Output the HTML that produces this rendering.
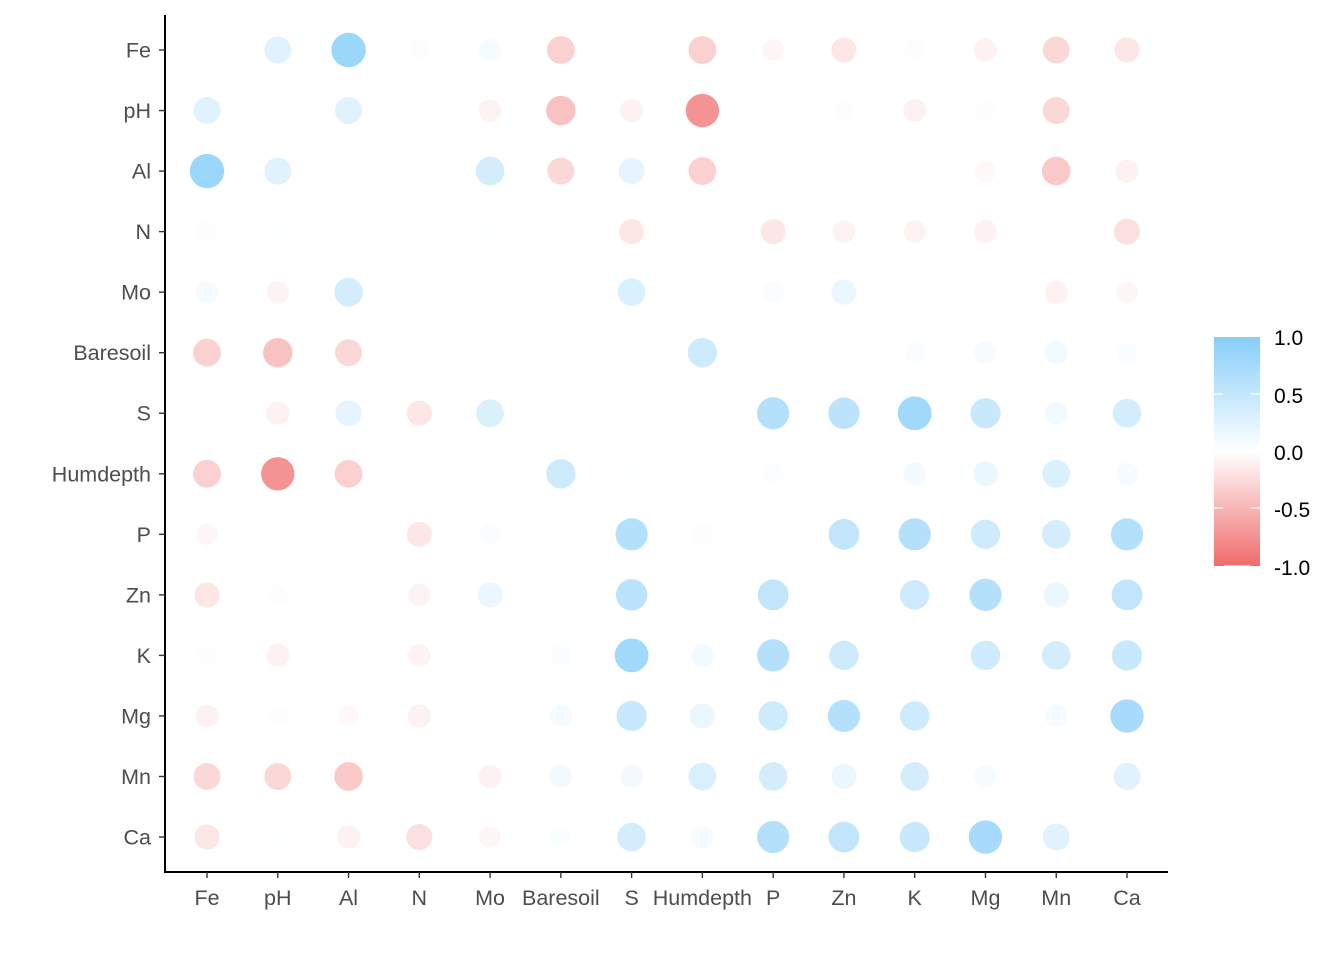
<!DOCTYPE html>
<html><head><meta charset="utf-8"><style>
html,body{margin:0;padding:0;background:#fff;}
svg text{font-family:"Liberation Sans",Arial,sans-serif;}
</style></head><body>
<svg id="s" width="1344" height="960" xmlns="http://www.w3.org/2000/svg">
<defs><linearGradient id="g" x1="0" y1="0" x2="0" y2="1">
<stop offset="0" stop-color="#87CEFA"/><stop offset="0.5" stop-color="#ffffff"/><stop offset="1" stop-color="#F06B6B"/>
</linearGradient></defs>
<line x1="165" y1="15" x2="165" y2="872" stroke="#000" stroke-width="2"/>
<line x1="164" y1="872" x2="1168" y2="872" stroke="#000" stroke-width="2"/>
<g id="c"></g>
<rect x="1214" y="337" width="46" height="229" fill="url(#g)"/>
<g stroke="#fff" stroke-width="1.2">
<line x1="1214" y1="394" x2="1223" y2="394"/><line x1="1251" y1="394" x2="1260" y2="394"/>
<line x1="1214" y1="508" x2="1223" y2="508"/><line x1="1251" y1="508" x2="1260" y2="508"/>
<line x1="1224" y1="566" x2="1250" y2="566"/>
</g>
<g font-size="21" fill="#000">
<text x="1274" y="345">1.0</text><text x="1274" y="403">0.5</text><text x="1274" y="460">0.0</text>
<text x="1274" y="517">-0.5</text><text x="1274" y="575">-1.0</text>
</g>
</svg>
<script>
var n=["Fe","pH","Al","N","Mo","Baresoil","S","Humdepth","P","Zn","K","Mg","Mn","Ca"];
var U=[
[.3,.85,.05,.1,-.35,0,-.35,-.08,-.2,-.03,-.12,-.3,-.2],
[.3,.02,-.1,-.45,-.12,-.75,0,-.03,-.12,-.03,-.3,.01],
[.01,.4,-.3,.25,-.35,0,.01,.03,-.06,-.4,-.12],
[.01,.01,-.2,.01,-.2,-.1,-.1,-.12,.01,-.25],
[0,.35,0,.06,.2,0,0,-.12,-.08],
[.02,.45,0,0,.06,.1,.12,.06],
[.03,.65,.6,.8,.5,.12,.4],
[.05,.03,.12,.2,.35,.1],
[.55,.65,.45,.4,.65],
[.45,.65,.2,.55],
[.45,.4,.5],
[.1,.75],
[.3]];
var M=[];for(var i=0;i<14;i++){M.push([]);for(var j=0;j<14;j++)M[i].push(null);}
for(var i=0;i<13;i++)for(var k=0;k<U[i].length;k++){var j=i+1+k;M[i][j]=U[i][k];M[j][i]=U[i][k];}
function X(j){return 207+j*70.77;}function Y(i){return 50+i*60.54;}
function col(v){var a=Math.pow(Math.abs(v),1.1),t=[135,206,250];if(v<0)t=[240,107,107];
return "rgb("+t.map(function(c){return Math.round(255+(c-255)*a)}).join(",")+")";}
var h="";
for(var i=0;i<14;i++)for(var j=0;j<14;j++){var v=M[i][j];if(v===null||v===0)continue;
var r=8+10*Math.sqrt(Math.abs(v));h+='<circle cx="'+X(j)+'" cy="'+Y(i)+'" r="'+r.toFixed(1)+'" fill="'+col(v)+'"/>';}
for(var i=0;i<14;i++){h+='<line x1="159" x2="165" y1="'+Y(i)+'" y2="'+Y(i)+'" stroke="#333" stroke-width="1.4"/>';
h+='<text x="151" y="'+(Y(i)+7.5)+'" font-size="21.5" fill="#4d4d4d" text-anchor="end">'+n[i]+'</text>';
h+='<line y1="872" y2="878" x1="'+X(i)+'" x2="'+X(i)+'" stroke="#333" stroke-width="1.4"/>';
h+='<text y="905" x="'+X(i)+'" font-size="21.5" fill="#4d4d4d" text-anchor="middle">'+n[i]+'</text>';}
document.getElementById("c").innerHTML=h;
</script>
</body></html>
